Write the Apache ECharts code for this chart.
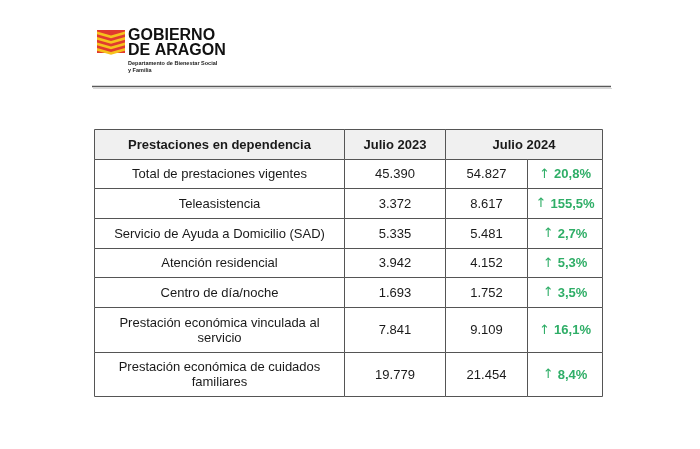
<!DOCTYPE html>
<html>
<head>
<meta charset="utf-8">
<script src="https://cdn.jsdelivr.net/npm/echarts@6/dist/echarts.min.js"></script>
<style>html,body{margin:0;padding:0;background:#fff;}#chart{width:700px;height:449px;}</style>
</head>
<body>
<div id="chart"></div>
<script>
// ---- data ----
const headers = ['Prestaciones en dependencia', 'Julio 2023', 'Julio 2024'];
const categories = [
  'Total de prestaciones vigentes',
  'Teleasistencia',
  'Servicio de Ayuda a Domicilio (SAD)',
  'Atención residencial',
  'Centro de día/noche',
  'Prestación económica vinculada al\nservicio',
  'Prestación económica de cuidados\nfamiliares'
];
const julio2023 = [45390, 3372, 5335, 3942, 1693, 7841, 19779];
const julio2024 = [54827, 8617, 5481, 4152, 1752, 9109, 21454];
const variacion = [20.8, 155.5, 2.7, 5.3, 3.5, 16.1, 8.4];

// ---- formatting ----
function fmtInt(n) {
  return String(n).replace(/\B(?=(\d{3})+(?!\d))/g, '.');
}
function fmtPct(v) {
  return v.toFixed(1).replace('.', ',') + '%';
}

// ---- layout (column edges in axis units) ----
const colEdges = [0, 250, 351, 433, 508];
const cells = [];
function rowUnits(label) { return label.split('\n').length > 1 ? 1.5 : 1; }
let y = 0;
cells.push({x0: colEdges[0], x1: colEdges[1], y0: y, y1: y + 1, text: headers[0], kind: 'head'});
cells.push({x0: colEdges[1], x1: colEdges[2], y0: y, y1: y + 1, text: headers[1], kind: 'head'});
cells.push({x0: colEdges[2], x1: colEdges[4], y0: y, y1: y + 1, text: headers[2], kind: 'head'});
y += 1;
categories.forEach(function (cat, i) {
  const h = rowUnits(cat);
  cells.push({x0: colEdges[0], x1: colEdges[1], y0: y, y1: y + h, text: cat, kind: 'body'});
  cells.push({x0: colEdges[1], x1: colEdges[2], y0: y, y1: y + h, text: fmtInt(julio2023[i]), kind: 'body'});
  cells.push({x0: colEdges[2], x1: colEdges[3], y0: y, y1: y + h, text: fmtInt(julio2024[i]), kind: 'body'});
  cells.push({x0: colEdges[3], x1: colEdges[4], y0: y, y1: y + h, text: '{a|↑ }{b|' + fmtPct(variacion[i]) + '}', kind: 'pct'});
  y += h;
});
const totalUnits = y;

const FONT = '"Liberation Sans", Arial, Helvetica, sans-serif';
const GREEN = '#2fae67';

function renderItem(params, api) {
  const c = cells[params.dataIndex];
  const p0 = api.coord([c.x0, c.y0]);
  const p1 = api.coord([c.x1, c.y1]);
  const x0 = Math.round(p0[0]) + 0.5, y0 = Math.round(p0[1]) + 0.5;
  const x1 = Math.round(p1[0]) + 0.5, y1 = Math.round(p1[1]) + 0.5;
  const textStyle = {
    text: c.text,
    x: (x0 + x1) / 2,
    y: (y0 + y1) / 2 + 0.5,
    align: 'center',
    verticalAlign: 'middle',
    fontFamily: FONT,
    fontSize: 13,
    lineHeight: 15,
    fontWeight: c.kind === 'head' ? 'bold' : 'normal',
    fill: '#1a1a1a'
  };
  if (c.kind === 'pct') {
    textStyle.rich = {
      a: {fill: GREEN, fontSize: 13, fontFamily: '"DejaVu Sans", sans-serif', fontWeight: 'normal'},
      b: {fill: GREEN, fontSize: 13, fontFamily: FONT, fontWeight: 'bold'}
    };
  }
  return {
    type: 'group',
    children: [
      {
        type: 'rect',
        shape: {x: x0, y: y0, width: x1 - x0, height: y1 - y0},
        style: {fill: c.kind === 'head' ? '#f0f0f0' : '#ffffff', stroke: '#555555', lineWidth: 1}
      },
      {type: 'text', style: textStyle}
    ]
  };
}

// ---- logo decoration ----
const emblem = [];
emblem.push({type: 'rect', shape: {x: 97, y: 30, width: 28, height: 23}, style: {fill: '#e03a2f'}});
[31.5, 37, 42.5, 48].forEach(function (yy) {
  emblem.push({
    type: 'polygon',
    shape: {points: [[97, yy], [111, yy + 4], [125, yy], [125, yy + 2.8], [111, yy + 6.8], [97, yy + 2.8]]},
    style: {fill: '#f6c21c'}
  });
});

const chart = echarts.init(document.getElementById('chart'), null, {renderer: 'canvas'});
chart.setOption({
  backgroundColor: '#ffffff',
  animation: false,
  grid: {left: 94, top: 129, width: 508, height: 267},
  xAxis: {type: 'value', min: 0, max: colEdges[colEdges.length - 1], show: false},
  yAxis: {type: 'value', min: 0, max: totalUnits, inverse: true, show: false},
  series: [{
    type: 'custom',
    clip: false,
    renderItem: renderItem,
    encode: {x: [0, 2], y: [1, 3]},
    data: cells.map(function (c) { return [c.x0, c.y0, c.x1, c.y1]; })
  }],
  graphic: emblem.concat([
    {type: 'text', left: 128, top: 28, style: {text: 'GOBIERNO', font: '900 16px ' + FONT, fill: '#111'}},
    {type: 'text', left: 128, top: 43, style: {text: 'DE ARAGON', font: '900 16px ' + FONT, fill: '#111'}},
    {type: 'text', left: 128, top: 60, style: {text: 'Departamento de Bienestar Social', font: 'bold 5.5px ' + FONT, fill: '#222'}},
    {type: 'text', left: 128, top: 67, style: {text: 'y Familia', font: 'bold 5.5px ' + FONT, fill: '#222'}},
    {type: 'line', shape: {x1: 92, y1: 86.5, x2: 611, y2: 86.5}, style: {stroke: '#5a5a5a', lineWidth: 1.6}},
    {type: 'line', shape: {x1: 93, y1: 88.5, x2: 612, y2: 88.5}, style: {stroke: '#d8d8d8', lineWidth: 1}}
  ])
});
</script>
</body>
</html>
